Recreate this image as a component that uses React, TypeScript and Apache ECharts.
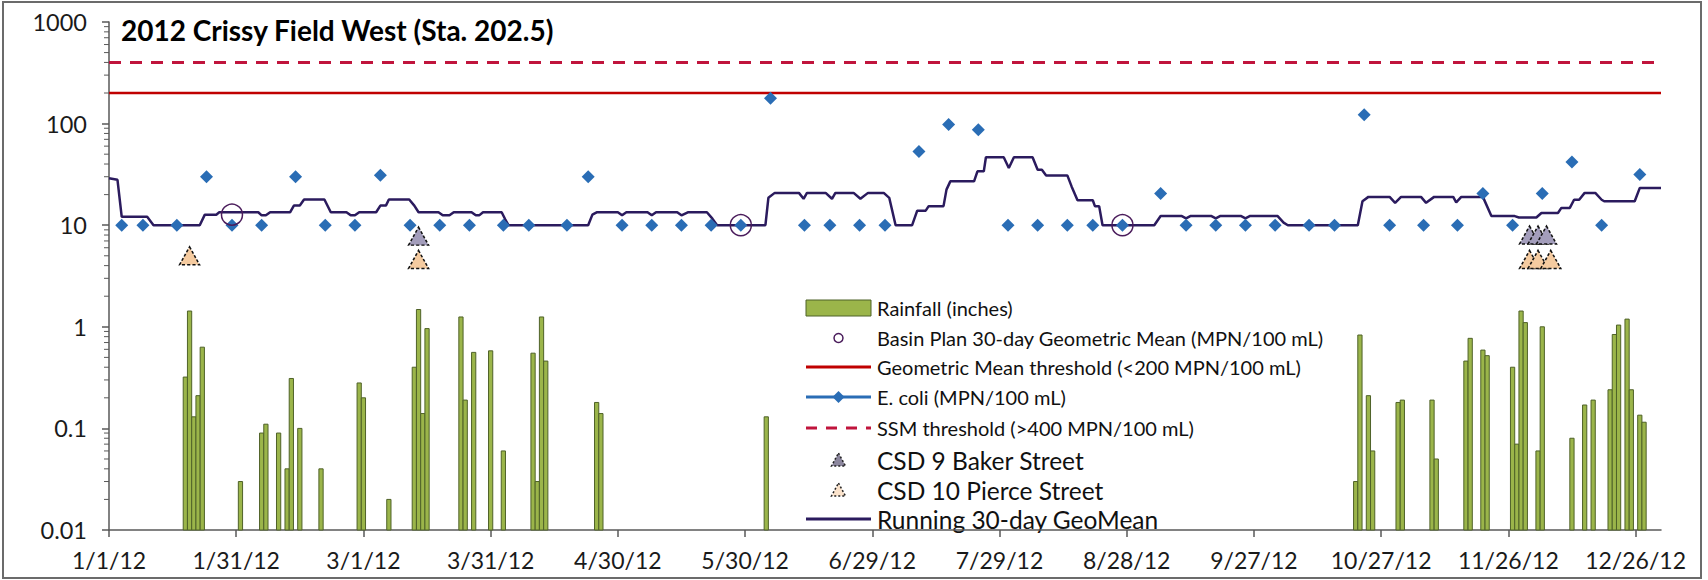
import React, { useEffect, useRef } from 'react';
import * as echarts from 'echarts';

// ---------- data (x values are days since 1/1/12) ----------
const TITLE = '2012 Crissy Field West (Sta. 202.5)';
const X_MIN = 0;
const X_MAX = 366;
const X_TICK_DAYS = [0, 30, 60, 90, 120, 150, 180, 210, 240, 270, 300, 330, 360];
const Y_MIN = 0.01;
const Y_MAX = 1000;
const Y_MINOR_TICKS = [
  0.02, 0.03, 0.04, 0.05, 0.06, 0.07, 0.08, 0.09,
  0.2, 0.3, 0.4, 0.5, 0.6, 0.7, 0.8, 0.9,
  2, 3, 4, 5, 6, 7, 8, 9,
  20, 30, 40, 50, 60, 70, 80, 90,
  200, 300, 400, 500, 600, 700, 800, 900,
];

// Rainfall (inches)
const rainDays = [18, 19, 20, 21, 22, 31, 36, 37, 40, 42, 43, 45, 50, 59, 60, 66, 72, 73, 74, 75, 83, 84, 86, 90, 93, 100, 101, 102, 103, 115, 116, 155, 294, 295, 297, 298, 304, 305, 312, 313, 320, 321, 324, 325, 331, 332, 333, 334, 337, 338, 345, 348, 350, 354, 355, 356, 358, 359, 361, 362];
const rainValues = [0.32, 1.43, 0.13, 0.21, 0.63, 0.03, 0.09, 0.11, 0.09, 0.04, 0.31, 0.1, 0.04, 0.28, 0.2, 0.02, 0.4, 1.48, 0.14, 0.96, 1.25, 0.19, 0.56, 0.58, 0.06, 0.55, 0.03, 1.25, 0.46, 0.18, 0.14, 0.13, 0.03, 0.83, 0.21, 0.06, 0.18, 0.19, 0.19, 0.05, 0.46, 0.77, 0.59, 0.52, 0.4, 0.07, 1.43, 1.1, 0.06, 1.0, 0.08, 0.17, 0.19, 0.24, 0.84, 1.04, 1.19, 0.24, 0.135, 0.115];

// E. coli (MPN/100 mL)
const ecoliDays = [3, 8, 16, 23, 29, 36, 44, 51, 58, 64, 71, 78, 85, 93, 99, 108, 113, 121, 128, 135, 142, 149, 156, 164, 170, 177, 183, 191, 198, 205, 212, 219, 226, 232, 239, 248, 254, 261, 268, 275, 283, 289, 296, 302, 310, 318, 324, 331, 338, 345, 352, 361];
const ecoliValues = [10, 10, 10, 30, 10, 10, 30, 10, 10, 31, 10, 10, 10, 10, 10, 10, 30, 10, 10, 10, 10, 10, 178, 10, 10, 10, 10, 53, 98, 87, 10, 10, 10, 10, 10, 20.5, 10, 10, 10, 10, 10, 10, 122, 10, 10, 10, 20.5, 10, 20.5, 42, 10, 31.5];

// Basin Plan 30-day Geometric Mean
const basinDays = [29, 149, 239];
const basinValues = [12.7, 10, 10];

// CSD discharges
const csd9Days = [73, 335, 337, 339];
const csd9Values = [7.8, 8, 8, 8];
const csd10Days = [19, 73, 335, 337, 340];
const csd10Values = [5, 4.6, 4.6, 4.6, 4.6];

// Thresholds
const GEOMEAN_THRESHOLD = 200;
const SSM_THRESHOLD = 400;

// Running 30-day GeoMean (vertices)
const gmDays = [0, 2, 3, 9, 10.5, 21.4, 22.6, 25.3, 26, 35.2, 36, 37, 38, 42.7, 43.6, 45, 46, 50.8, 52.3, 56, 57, 58, 59, 63, 64, 65.3, 66, 70.8, 72, 73, 77.7, 78.7, 80.3, 81.3, 85.5, 86.5, 87.3, 88.2, 92.6, 93.4, 94.2, 113, 114, 115, 120, 121, 122, 127, 128, 129, 134, 135, 136.5, 141, 142.3, 143.4, 154.8, 155.5, 157, 162.7, 163.8, 164.6, 169, 170.5, 171.3, 175.6, 177.2, 179, 182.7, 184, 185.5, 189.4, 190.6, 192.6, 193.3, 196.8, 197.5, 198.4, 204, 204.8, 206.3, 206.8, 211, 212.2, 213.4, 217.8, 219, 220, 221, 226, 227, 228.4, 232, 232.5, 233.5, 234.3, 246.5, 248, 253, 254, 255, 260, 261, 262, 267, 268, 269, 275.6, 277, 278, 294.5, 295.6, 297, 302, 303.3, 304.7, 309.4, 310.6, 312.5, 317, 317.7, 318.9, 324, 326, 331.5, 332.5, 336.6, 337.8, 341.7, 342.5, 344.5, 345.5, 346.7, 348, 350.5, 352, 352.6, 359.8, 361, 366];
const gmValues = [29, 28, 12.1, 12.1, 10, 10, 12.7, 12.7, 13.4, 13.4, 12.5, 12.5, 13.4, 13.4, 15.6, 15.6, 17.9, 17.9, 13.4, 13.4, 12.5, 12.5, 13.4, 13.4, 15.6, 15.6, 17.9, 17.9, 15.6, 13.4, 13.4, 12.5, 12.5, 13.4, 13.4, 12.5, 12.5, 13.4, 13.4, 11.5, 10, 10, 12.7, 13.4, 13.4, 12.5, 13.4, 13.4, 12.5, 13.4, 13.4, 12.5, 13.4, 13.4, 11.6, 10, 10, 18.6, 20.8, 20.8, 18.2, 20.8, 20.8, 18.2, 20.8, 20.8, 18.2, 20.8, 20.8, 18.6, 10, 10, 13.9, 13.9, 15.4, 15.4, 22.4, 27, 27, 33.9, 33.9, 46.6, 46.6, 36.6, 46.6, 46.6, 35.2, 35.2, 30.9, 30.9, 24.1, 17.6, 17.6, 15.4, 15.4, 10, 10, 12.3, 12.3, 11.7, 12.3, 12.3, 11.7, 12.3, 12.3, 11.7, 12.3, 12.3, 10.6, 10, 10, 17.2, 19, 19, 16.6, 19, 19, 16.6, 19, 19, 16.8, 19, 19, 12.3, 12.3, 11.9, 11.9, 13.2, 13.2, 14.8, 14.8, 17.8, 17.8, 20.8, 20.8, 17.8, 17.2, 17.2, 23.3, 23.3];

// Legend entries
const LEGEND_NAMES = [
  'Rainfall (inches)',
  'Basin Plan 30-day Geometric Mean (MPN/100 mL)',
  'Geometric Mean threshold (<200 MPN/100 mL)',
  'E. coli (MPN/100 mL)',
  'SSM threshold (>400 MPN/100 mL)',
  'CSD 9 Baker Street',
  'CSD 10 Pierce Street',
  'Running 30-day GeoMean',
];

// ---------- styles ----------
const FONT = 'Lato, "Open Sans", sans-serif';
const AXIS_COLOR = '#595959';
const RAIN_FILL = '#9BB54A';
const RAIN_STROKE = '#4F6228';
const RED = '#C00000';
const RED_DASH = '#C0143C';
const BLUE = '#2A6DB5';
const NAVY = '#2B1B5E';
const PURPLE = '#4B1D5C';
const BAKER = '#A39DBB';
const PIERCE = '#F5CBA0';

const zip = (xs: number[], ys: number[]) => xs.map((x, i) => [x, ys[i]]);

const fmtDay = (d: number) => {
  const dt = new Date(Date.UTC(2012, 0, 1) + d * 86400000);
  return `${dt.getUTCMonth() + 1}/${dt.getUTCDate()}/${String(dt.getUTCFullYear()).slice(2)}`;
};

const fmtLog = (v: number) => (v >= 1 ? String(Math.round(v)) : String(parseFloat(v.toPrecision(1))));

function buildLegend() {
  const X0 = 806;
  const W = 65;
  const CX = X0 + W / 2;
  const TX = 877;
  const rows = [308, 338, 367, 397, 428, 460, 490, 519];
  const small = 20;
  const big = 24.5;
  const els: any[] = [];
  const text = (i: number, size: number) => ({
    type: 'text',
    x: TX,
    y: rows[i],
    style: { text: LEGEND_NAMES[i], fontSize: size, fontFamily: FONT, fill: '#111', verticalAlign: 'middle' },
  });
  els.push({ type: 'rect', shape: { x: X0, y: rows[0] - 8, width: W, height: 16 }, style: { fill: RAIN_FILL, stroke: RAIN_STROKE, lineWidth: 1 } });
  els.push(text(0, small));
  els.push({ type: 'circle', shape: { cx: CX, cy: rows[1], r: 4.5 }, style: { fill: 'none', stroke: PURPLE, lineWidth: 1.5 } });
  els.push(text(1, small));
  els.push({ type: 'line', shape: { x1: X0, y1: rows[2], x2: X0 + W, y2: rows[2] }, style: { stroke: RED, lineWidth: 3 } });
  els.push(text(2, small));
  els.push({ type: 'line', shape: { x1: X0, y1: rows[3], x2: X0 + W, y2: rows[3] }, style: { stroke: BLUE, lineWidth: 3 } });
  els.push({ type: 'polygon', shape: { points: [[CX, rows[3] - 6], [CX + 6, rows[3]], [CX, rows[3] + 6], [CX - 6, rows[3]]] }, style: { fill: BLUE } });
  els.push(text(3, small));
  els.push({ type: 'line', shape: { x1: X0, y1: rows[4], x2: X0 + W, y2: rows[4] }, style: { stroke: RED_DASH, lineWidth: 3, lineDash: [11, 9] } });
  els.push(text(4, small));
  els.push({ type: 'polygon', shape: { points: [[CX, rows[5] - 7], [CX + 7, rows[5] + 6], [CX - 7, rows[5] + 6]] }, style: { fill: '#8C879E', stroke: '#222', lineWidth: 1.5, lineDash: [2, 2] } });
  els.push(text(5, big));
  els.push({ type: 'polygon', shape: { points: [[CX, rows[6] - 7], [CX + 7, rows[6] + 6], [CX - 7, rows[6] + 6]] }, style: { fill: '#FBE3CC', stroke: '#222', lineWidth: 1.5, lineDash: [2, 2] } });
  els.push(text(6, big));
  els.push({ type: 'line', shape: { x1: X0, y1: rows[7], x2: X0 + W, y2: rows[7] }, style: { stroke: NAVY, lineWidth: 3 } });
  els.push(text(7, big));
  return els;
}

export default function App() {
  const ref = useRef<HTMLDivElement>(null);

  useEffect(() => {
    if (!ref.current) return;
    const chart = echarts.init(ref.current, undefined, { renderer: 'svg' });

    const option: any = {
      animation: false,
      backgroundColor: '#ffffff',
      title: {
        text: TITLE,
        left: 121,
        top: 16,
        padding: 0,
        textStyle: { fontFamily: FONT, fontWeight: 'bold', fontSize: 28, color: '#000' },
      },
      grid: { left: 109, right: 47, top: 22, bottom: 50 },
      xAxis: {
        type: 'value',
        min: X_MIN,
        max: X_MAX,
        interval: 30,
        axisLine: { show: true, lineStyle: { color: AXIS_COLOR, width: 1.5 } },
        axisTick: { show: true, length: 7, customValues: X_TICK_DAYS, lineStyle: { color: AXIS_COLOR, width: 1.5 } },
        axisLabel: {
          customValues: X_TICK_DAYS,
          formatter: (v: number) => (v % 30 === 0 ? fmtDay(v) : ''),
          fontFamily: FONT,
          fontSize: 23,
          color: '#1a1a1a',
          margin: 18,
        },
        splitLine: { show: false },
      },
      yAxis: {
        type: 'log',
        logBase: 10,
        min: Y_MIN,
        max: Y_MAX,
        axisLine: { show: true, lineStyle: { color: AXIS_COLOR, width: 1.5 } },
        axisTick: { show: true, length: 7, lineStyle: { color: AXIS_COLOR, width: 1.5 } },
        axisLabel: { formatter: fmtLog, fontFamily: FONT, fontSize: 23.5, color: '#1a1a1a', margin: 22 },
        splitLine: { show: false },
      },
      graphic: [
        { type: 'rect', shape: { x: 3, y: 2, width: 1698, height: 576 }, style: { fill: 'none', stroke: '#6b6b6b', lineWidth: 2 }, silent: true },
        ...buildLegend(),
      ],
      series: [
        {
          name: 'Rainfall (inches)',
          type: 'custom',
          z: 1,
          clip: false,
          encode: { x: 0, y: 1 },
          data: zip(rainDays, rainValues),
          renderItem: (params: any, api: any) => {
            const x = api.value(0);
            const v = api.value(1);
            const top = api.coord([x, v]);
            const base = api.coord([x, Y_MIN]);
            const w = api.coord([x + 0.5, v])[0] - api.coord([x - 0.5, v])[0];
            return {
              type: 'rect',
              shape: { x: top[0] - w / 2, y: top[1], width: w, height: base[1] - top[1] },
              style: { fill: RAIN_FILL, stroke: RAIN_STROKE, lineWidth: 1 },
            };
          },
        },
        {
          name: 'minor ticks',
          type: 'custom',
          silent: true,
          clip: false,
          z: 1,
          encode: { y: 0 },
          data: Y_MINOR_TICKS.map((v) => [v]),
          renderItem: (params: any, api: any) => {
            const p = api.coord([X_MIN, api.value(0)]);
            return {
              type: 'line',
              shape: { x1: p[0] - 5, y1: p[1], x2: p[0], y2: p[1] },
              style: { stroke: AXIS_COLOR, lineWidth: 1 },
            };
          },
        },
        {
          name: 'SSM threshold (>400 MPN/100 mL)',
          type: 'line',
          z: 2,
          symbol: 'none',
          data: [[X_MIN, SSM_THRESHOLD], [X_MAX, SSM_THRESHOLD]],
          lineStyle: { color: RED_DASH, width: 3, type: [12, 9] },
        },
        {
          name: 'Geometric Mean threshold (<200 MPN/100 mL)',
          type: 'line',
          z: 2,
          symbol: 'none',
          data: [[X_MIN, GEOMEAN_THRESHOLD], [X_MAX, GEOMEAN_THRESHOLD]],
          lineStyle: { color: RED, width: 2.5 },
        },
        {
          name: 'Running 30-day GeoMean',
          type: 'line',
          z: 3,
          symbol: 'none',
          data: zip(gmDays, gmValues),
          lineStyle: { color: NAVY, width: 2.5 },
        },
        {
          name: 'E. coli (MPN/100 mL)',
          type: 'scatter',
          z: 4,
          symbol: 'diamond',
          symbolSize: 13,
          data: zip(ecoliDays, ecoliValues),
          itemStyle: { color: BLUE, opacity: 1 },
        },
        {
          name: 'Basin Plan 30-day Geometric Mean (MPN/100 mL)',
          type: 'scatter',
          z: 5,
          symbol: 'circle',
          symbolSize: 21,
          data: zip(basinDays, basinValues),
          itemStyle: { color: 'rgba(0,0,0,0)', borderColor: PURPLE, borderWidth: 1.5, opacity: 1 },
        },
        {
          name: 'CSD 9 Baker Street',
          type: 'scatter',
          z: 6,
          symbol: 'triangle',
          symbolSize: [20, 18],
          data: zip(csd9Days, csd9Values),
          itemStyle: { color: BAKER, borderColor: '#111', borderWidth: 1.5, borderType: [3, 2], opacity: 1 },
        },
        {
          name: 'CSD 10 Pierce Street',
          type: 'scatter',
          z: 7,
          symbol: 'triangle',
          symbolSize: [20, 18],
          data: zip(csd10Days, csd10Values),
          itemStyle: { color: PIERCE, borderColor: '#111', borderWidth: 1.5, borderType: [3, 2], opacity: 1 },
        },
      ],
    };

    chart.setOption(option);
    return () => chart.dispose();
  }, []);

  return (
    <div
      ref={ref}
      style={{ position: 'fixed', left: 0, top: 0, width: 1708, height: 580, background: '#fff' }}
    />
  );
}
